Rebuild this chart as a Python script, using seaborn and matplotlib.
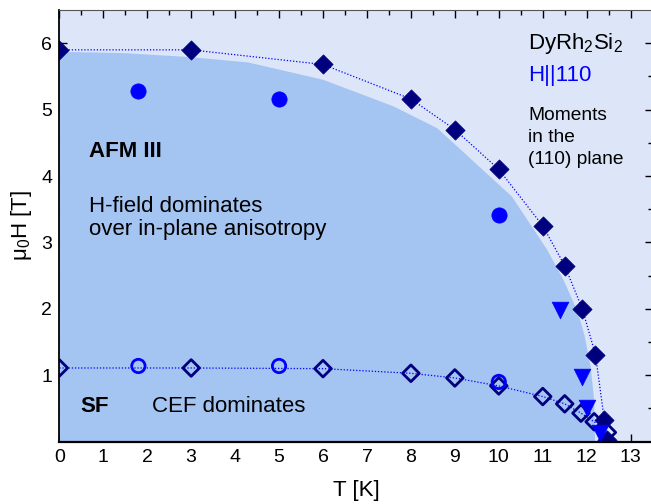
import matplotlib
matplotlib.use("Agg")
import matplotlib.pyplot as plt
import seaborn as sns

# Outline of the AFM III / SF region (T in K, mu0H in T)
region_T = [0.0, 1.5, 3.0, 4.3, 6.0, 7.6, 8.6, 10.3, 11.1, 11.47, 11.8, 11.95, 12.09, 12.17, 12.19]
region_H = [5.87, 5.85, 5.79, 5.71, 5.45, 5.05, 4.72, 3.69, 2.89, 2.44, 1.95, 1.6, 1.13, 0.63, 0.0]

# Upper critical field (filled diamonds)
hc_T = [0, 3, 6, 8, 9, 10, 11, 11.5, 11.9, 12.2, 12.4, 12.47]
hc_H = [5.90, 5.90, 5.68, 5.16, 4.70, 4.10, 3.25, 2.65, 2.00, 1.31, 0.33, 0.02]

# Spin-flop field (open diamonds)
sf_T = [0, 3, 6, 8, 9, 10, 11, 11.5, 11.87, 12.17, 12.47]
sf_H = [1.11, 1.11, 1.10, 1.03, 0.96, 0.84, 0.68, 0.57, 0.43, 0.30, 0.14]

# Second data set: filled circles, open circles, triangles
circ_T = [1.8, 5.0, 10.0]
circ_H = [5.28, 5.16, 3.42]
ocirc_T = [1.8, 5.0, 10.0]
ocirc_H = [1.14, 1.14, 0.90]
tri_T = [11.39, 11.9, 12.0, 12.3]
tri_H = [1.98, 0.98, 0.50, 0.13]

xticks = list(range(0, 14))
yticks = [1, 2, 3, 4, 5, 6]

NAVY = "#00007f"
BLUE = "#0000ff"
LIGHT = "#dde6f8"
AFM = "#a4c4f2"

sns.set_style("ticks")
plt.rcParams["font.family"] = ["Liberation Sans", "DejaVu Sans"]
plt.rcParams["mathtext.fontset"] = "custom"
plt.rcParams["mathtext.rm"] = "Liberation Sans"
plt.rcParams["mathtext.it"] = "Liberation Sans:italic"
plt.rcParams["mathtext.bf"] = "Liberation Sans:bold"
plt.rcParams["text.color"] = "black"
plt.rcParams["axes.labelcolor"] = "black"
plt.rcParams["xtick.color"] = "black"
plt.rcParams["ytick.color"] = "black"

# axes runs from T=0 to T=13.5; the right edge sits just past the canvas
px_per_K = 43.95
fig = plt.figure(figsize=(6.51, 5.04), dpi=100)
ax = fig.add_axes([59.3 / 651, 1 - 441.7 / 504, 13.5 * px_per_K / 651, (441.7 - 10) / 504])
ax.set_facecolor(LIGHT)

# phase region
ax.fill(region_T + [0.0], region_H + [0.0], color=AFM, lw=0, zorder=1)

# dotted guide lines through the diamonds
sns.lineplot(x=hc_T, y=hc_H, sort=False, estimator=None, color=BLUE,
             lw=0.9, linestyle=(0, (1, 1.5)), ax=ax, zorder=2)
sns.lineplot(x=sf_T, y=sf_H, sort=False, estimator=None, color=BLUE,
             lw=0.9, linestyle=(0, (1, 1.5)), ax=ax, zorder=2)

sns.scatterplot(x=sf_T, y=sf_H, marker="D", s=8.5 ** 2, color=NAVY,
                facecolor="none", edgecolor=NAVY, linewidth=2.0, ax=ax, zorder=3)
sns.scatterplot(x=ocirc_T, y=ocirc_H, marker="o", s=9.6 ** 2, color=BLUE,
                facecolor="none", edgecolor=BLUE, linewidth=2.0, ax=ax, zorder=4)
sns.scatterplot(x=hc_T, y=hc_H, marker="D", s=9.8 ** 2, color=NAVY,
                edgecolor=NAVY, linewidth=0.5, ax=ax, zorder=5)
sns.scatterplot(x=circ_T, y=circ_H, marker="o", s=11 ** 2, color=BLUE,
                edgecolor=BLUE, linewidth=0.5, ax=ax, zorder=5)
sns.scatterplot(x=tri_T, y=tri_H, marker="v", s=12 ** 2, color=BLUE,
                edgecolor=BLUE, linewidth=0.5, ax=ax, zorder=6)

ax.set_xlim(0, 13.5)
ax.set_ylim(0, 6.5)
ax.set_xticks(xticks)
ax.set_xticks([x + 0.5 for x in xticks], minor=True)
ax.set_yticks(yticks)
ax.set_yticks([0.5 + i * 0.5 for i in range(12)], minor=True)
ax.tick_params(which="both", direction="in", top=True, right=True,
               labelsize=14, colors="black", width=1.0)
ax.tick_params(which="major", length=6, pad=5)
ax.tick_params(which="minor", length=3.5)
for name, sp in ax.spines.items():
    sp.set_zorder(10)
    sp.set_color("black")
ax.spines["bottom"].set_linewidth(1.6)
ax.spines["left"].set_linewidth(1.3)
ax.spines["top"].set_linewidth(0.8)
ax.spines["top"].set_color("#555555")
ax.spines["right"].set_linewidth(0.8)

ax.set_xlabel("T [K]", fontsize=16, labelpad=10)
ax.set_ylabel("μ$_\\mathregular{0}$H [T]", fontsize=16, labelpad=5)

# annotations
ax.text(0.68, 4.29, "AFM III", fontsize=16, fontweight="bold", va="baseline")
ax.text(0.68, 3.46, "H-field dominates", fontsize=16, va="baseline")
ax.text(0.68, 3.11, "over in-plane anisotropy", fontsize=16, va="baseline")
ax.text(0.47, 0.45, "SF", fontsize=16, fontweight="bold", va="baseline")
ax.text(2.12, 0.45, "CEF dominates", fontsize=16, va="baseline")
ax.text(10.67, 5.92, "DyRh$_\\mathregular{2}$Si$_\\mathregular{2}$", fontsize=16, va="baseline")
ax.text(10.67, 5.43, "H||110", fontsize=16, color=BLUE, va="baseline")
ax.text(10.67, 4.84, "Moments", fontsize=13.8, va="baseline")
ax.text(10.67, 4.51, "in the", fontsize=13.8, va="baseline")
ax.text(10.67, 4.18, "(110) plane", fontsize=13.8, va="baseline")

fig.savefig("out.png", dpi=100)
